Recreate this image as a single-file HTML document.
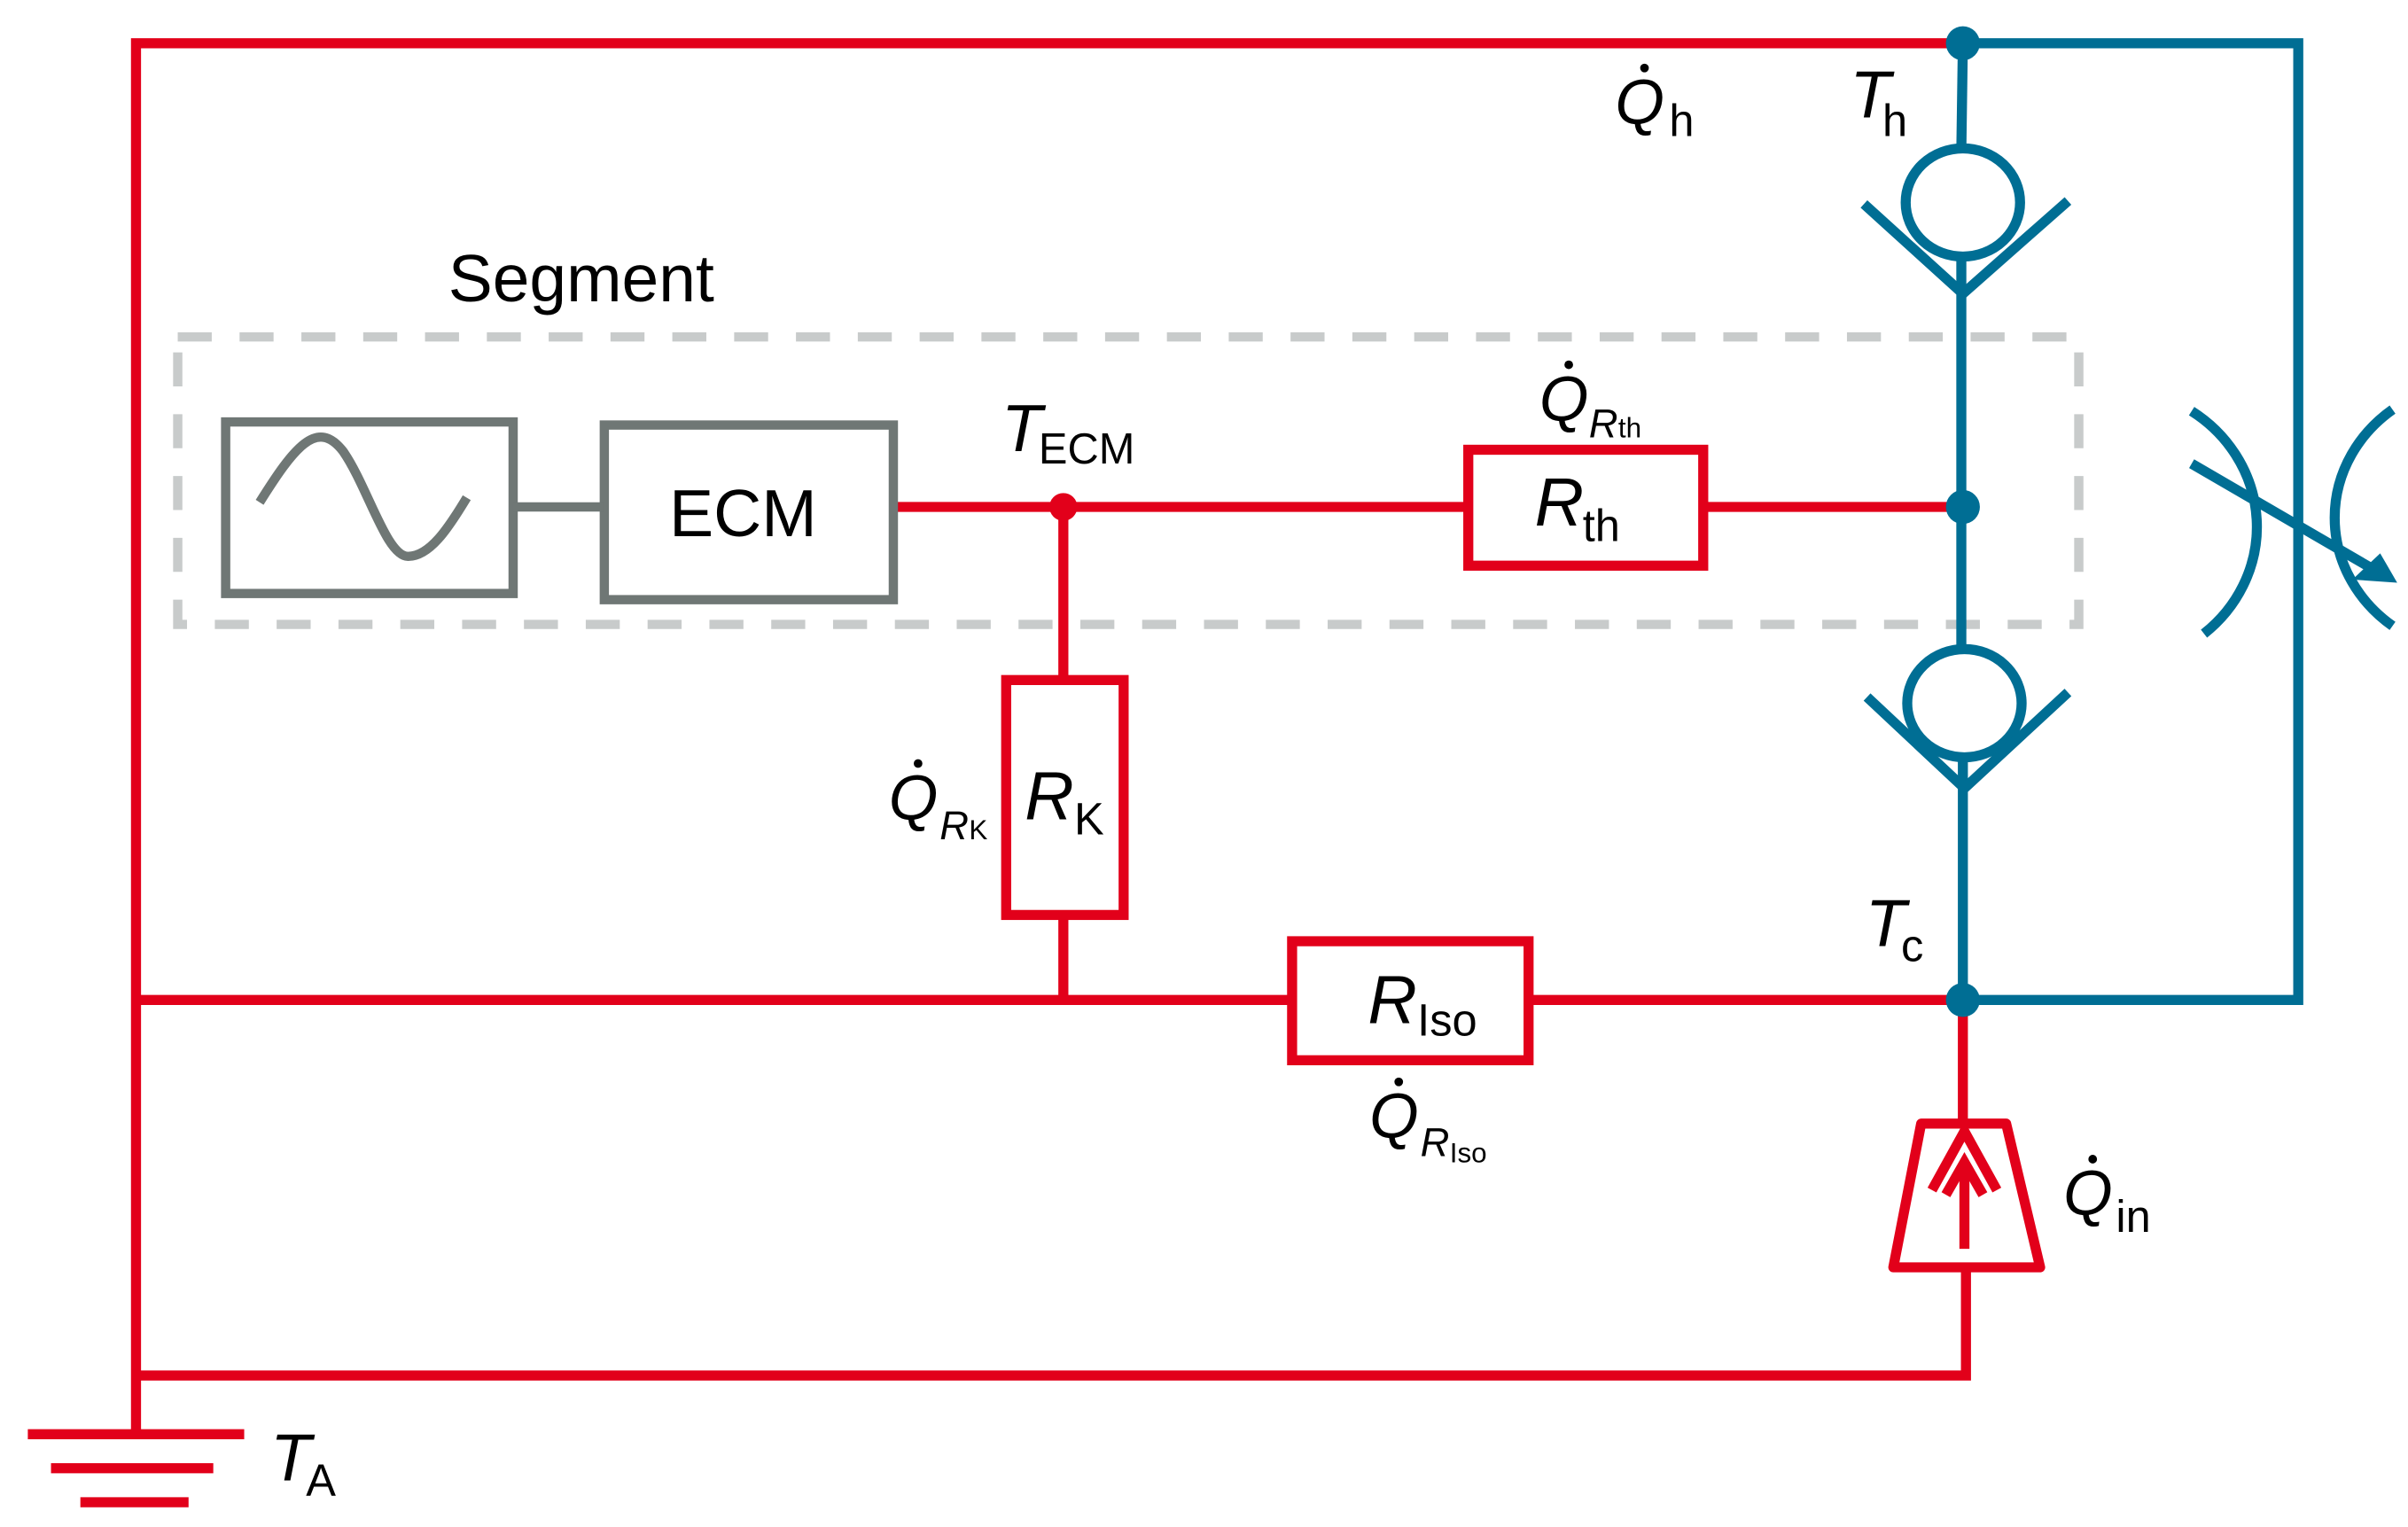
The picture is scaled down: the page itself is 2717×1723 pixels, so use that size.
<!DOCTYPE html>
<html><head><meta charset="utf-8"><style>
html,body{margin:0;padding:0;background:#fff;}
svg{display:block;}
text{font-family:"Liberation Sans",Arial,sans-serif;fill:#000;}
</style></head><body>
<svg width="2717" height="1723" viewBox="0 0 1558 988" xmlns="http://www.w3.org/2000/svg">
<g fill="none" stroke-linejoin="miter">
<rect x="115" y="218" width="1230" height="186" stroke="#c8cbcb" stroke-width="6" stroke-dasharray="22 18"/>
<g stroke="#e2001a" stroke-width="6.5">
<polyline points="1270,28 88,28 88,928"/>
<line x1="578" y1="328" x2="950" y2="328"/>
<line x1="1102" y1="328" x2="1270" y2="328"/>
<line x1="688" y1="328" x2="688" y2="440"/>
<line x1="688" y1="592" x2="688" y2="647"/>
<rect x="651" y="440" width="76" height="152"/>
<rect x="950" y="291" width="152" height="75"/>
<line x1="88" y1="647" x2="836" y2="647"/>
<rect x="836" y="609" width="153" height="77"/>
<line x1="989" y1="647" x2="1270" y2="647"/>
<line x1="1270" y1="647" x2="1270" y2="727"/>
<polygon points="1243,727 1298,727 1320,820 1225,820" stroke-linejoin="round"/>
<polyline points="1272,820 1272,890 88,890"/>
<polyline points="1250,770 1271,732 1292,770"/>
<polyline points="1259,773 1271,752 1283,773"/>
<line x1="1271" y1="755" x2="1271" y2="808"/>
<line x1="18" y1="928" x2="158" y2="928"/>
<line x1="33" y1="950" x2="138" y2="950"/>
<line x1="52" y1="972" x2="122" y2="972"/>
</g>
<circle cx="688" cy="328" r="9" fill="#e2001a"/>
<g stroke="#6f7775" stroke-width="6">
<rect x="146" y="273" width="186" height="111"/>
<rect x="391" y="275" width="187" height="113"/>
<line x1="332" y1="328" x2="391" y2="328"/>
<path d="M168,325 C190,290 205,270 222,292 C238,315 250,360 264,360 C278,360 290,342 302,322"/>
</g>
<g stroke="#006e94" stroke-width="6.5">
<polyline points="1270,28 1487,28 1487,647 1270,647"/>
<line x1="1270" y1="28" x2="1269" y2="97"/>
<line x1="1269" y1="166" x2="1269" y2="420"/>
<line x1="1270" y1="490" x2="1270" y2="647"/>
<ellipse cx="1270" cy="131" rx="37" ry="35"/>
<ellipse cx="1271" cy="455" rx="37" ry="35"/>
<polyline points="1206,132 1270,190 1338,130"/>
<polyline points="1208,451 1271,510 1338,448"/>
<path d="M1418,266 A95 90 0 0 1 1426,410"/>
<path d="M1548,265 A95 88 0 0 0 1548,405"/>
<line x1="1418" y1="300" x2="1535" y2="368"/>
</g>
<polygon points="1551,377 1522,375 1540,358" fill="#006e94"/>
<circle cx="1270" cy="28" r="11" fill="#006e94"/>
<circle cx="1270" cy="328" r="11" fill="#006e94"/>
<circle cx="1270" cy="647" r="11" fill="#006e94"/>
</g>
<text x="290" y="195" font-size="43">Segment</text>
<text x="433" y="347" font-size="43">ECM</text>
<text x="648" y="292" font-size="43" font-style="italic">T</text><text x="672" y="300" font-size="28">ECM</text>
<text x="993" y="340" font-size="44" font-style="italic">R</text><text x="1024" y="350" font-size="29">th</text>
<text x="996" y="272" font-size="41" font-style="italic">Q</text><circle cx="1015" cy="236" r="2.8"/><text x="1028" y="283" font-size="26" font-style="italic">R</text><text x="1047" y="283" font-size="18">th</text>
<text x="1045" y="80" font-size="41" font-style="italic">Q</text><circle cx="1064" cy="44" r="2.8"/><text x="1080" y="88" font-size="29">h</text>
<text x="1197" y="76" font-size="43" font-style="italic">T</text><text x="1218" y="88" font-size="29">h</text>
<text x="663" y="530" font-size="44" font-style="italic">R</text><text x="695" y="540" font-size="29">K</text>
<text x="575" y="530" font-size="41" font-style="italic">Q</text><circle cx="594" cy="494" r="2.8"/><text x="608" y="543" font-size="26" font-style="italic">R</text><text x="627" y="543" font-size="18">K</text>
<text x="885" y="662" font-size="44" font-style="italic">R</text><text x="917" y="670" font-size="29">Iso</text>
<text x="886" y="736" font-size="41" font-style="italic">Q</text><circle cx="905" cy="700" r="2.8"/><text x="919" y="748" font-size="26" font-style="italic">R</text><text x="938" y="752" font-size="18">Iso</text>
<text x="1207" y="612" font-size="43" font-style="italic">T</text><text x="1230" y="622" font-size="29">c</text>
<text x="1335" y="786" font-size="41" font-style="italic">Q</text><circle cx="1354" cy="750" r="2.8"/><text x="1369" y="797" font-size="29">in</text>
<text x="175" y="958" font-size="43" font-style="italic">T</text><text x="198" y="968" font-size="29">A</text>
</svg>
</body></html>
